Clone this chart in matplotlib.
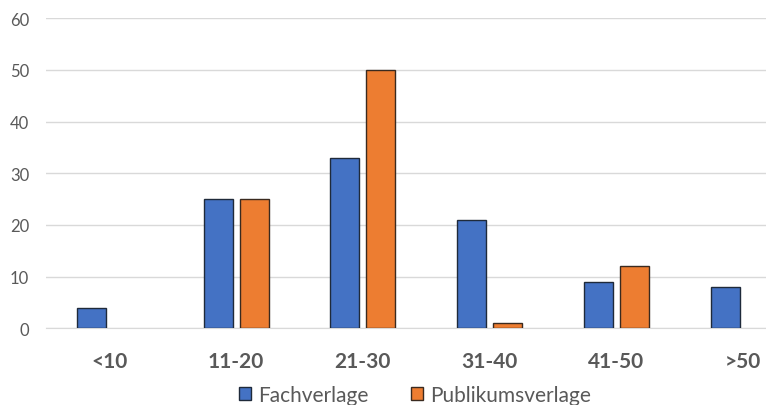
import numpy as np
import matplotlib
matplotlib.use("Agg")
import matplotlib.pyplot as plt

plt.rcParams['font.family'] = ['Lato', 'DejaVu Sans']

# Daten
kategorien = ["<10", "11-20", "21-30", "31-40", "41-50", ">50"]
fachverlage = [4, 25, 33, 21, 9, 8]
publikumsverlage = [0, 25, 50, 1, 12, 0]

blau = "#4472C4"
orange = "#ED7D31"
grau = "#595959"

fig = plt.figure(figsize=(7.66, 4.06), dpi=100)
ax = fig.add_axes([46 / 766, 1 - 329.3 / 406, 1 - 46 / 766, 310 / 406])

x = np.arange(len(kategorien))
breite = 0.228
versatz = 0.142

# Balken mit Wert 0 nicht zeichnen (sonst bleibt eine Randlinie sichtbar)
fv = np.array(fachverlage)
pv = np.array(publikumsverlage)
ax.bar(x[fv > 0] - versatz, fv[fv > 0], breite, color=blau, edgecolor="#1f2a3a",
       linewidth=1, label="Fachverlage", zorder=3)
ax.bar(x[pv > 0] + versatz, pv[pv > 0], breite, color=orange, edgecolor="#3a2a1f",
       linewidth=1, label="Publikumsverlage", zorder=3)

ax.set_xlim(-0.5, 5.18)
ax.set_ylim(0, 60)
ax.set_yticks(range(0, 61, 10))
ax.set_xticks(x)
ax.set_xticklabels(kategorien, fontsize=15, fontweight="bold", color=grau)
ax.tick_params(axis="y", length=0, pad=12, labelsize=12, labelcolor=grau)
ax.tick_params(axis="x", length=0, pad=16)

ax.grid(axis="y", color="#d9d9d9", linewidth=1, zorder=0)
for s in ["top", "right", "left"]:
    ax.spines[s].set_visible(False)
ax.spines["bottom"].set_color("#d9d9d9")
ax.spines["bottom"].set_zorder(0)

leg = fig.legend(loc="center", bbox_to_anchor=(415 / 766, 1 - 396 / 406), ncol=2,
                 frameon=False, fontsize=15, handlelength=0.6, handleheight=0.6,
                 handletextpad=0.35, columnspacing=2.0)
for t in leg.get_texts():
    t.set_color(grau)

fig.savefig("out.png", dpi=100)
